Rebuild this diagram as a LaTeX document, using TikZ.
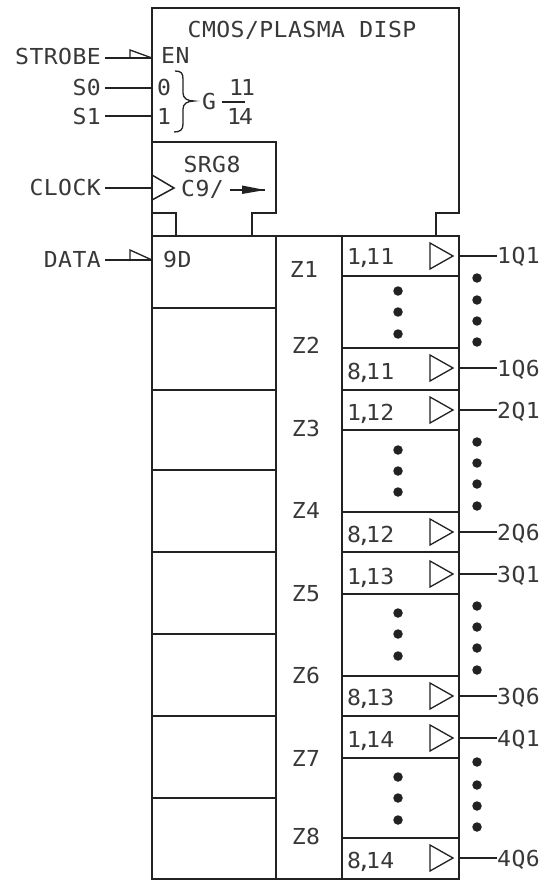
\documentclass[tikz,border=0pt]{standalone}
\usepackage{fontspec}
\newfontfamily\cadfont[FakeStretch=1.05,LetterSpace=2]{DejaVu Sans Mono}
\newcommand{\cadcomma}{\kern-4pt,\kern-5pt}
\tikzset{
  wire/.style={line width=1.5pt,draw=ink,line cap=rect},
  thinwire/.style={line width=1.3pt,draw=ink},
  lbl/.style={inner sep=0pt,text height=16pt,text depth=0pt,text=ink!90,font=\cadfont\fontsize{22}{23}\selectfont},
  dotmark/.style={circle,fill=ink,draw=none,minimum size=9.5pt,inner sep=0pt},
}
\definecolor{ink}{HTML}{222222}
\begin{document}
\begin{tikzpicture}[x=1pt,y=-1pt]
\useasboundingbox (0,0) rectangle (545,882);
\fill[white] (0,0) rectangle (545,882);
% common control block
\draw[wire] (436,236) -- (436,213) -- (459,213) -- (459,8) -- (152,8) -- (152,236);
\draw[wire] (152,142) -- (276,142) -- (276,213) -- (252,213) -- (252,236);
\draw[wire] (152,213) -- (176,213) -- (176,236);
% register body
\draw[wire] (152,236) rectangle (459,879);
\draw[wire] (276,236) -- (276,879);
\draw[wire] (342,236) -- (342,879);
\foreach \y in {308,390,470,552,634,716,798} \draw[wire] (152,\y) -- (276,\y);
\foreach \y in {276,348,390,430,512,552,594,676,716,758,838} \draw[wire] (342,\y) -- (459,\y);
% texts in control block
\node[lbl] (title) at (302,30) {CMOS/PLASMA DISP};
\node[lbl,anchor=west] (en) at (161,56) {EN};
\node[lbl,anchor=west] (s0in) at (157,88) {0};
\node[lbl,anchor=west] (s1in) at (157,117) {1};
\node[lbl] (g) at (209,102) {G};
\node[lbl] (n11) at (242,88) {1\kern-2pt 1};
\node[lbl] (n14) at (240,117) {1\kern-2pt 4};
\draw[thinwire] (222,102) -- (245,102);
\draw[thinwire] (175,71) .. controls (181,71) and (183,73) .. (183,79) -- (183,93) .. controls (183,98) and (187,101) .. (194,101) .. controls (187,101) and (183,104) .. (183,109) -- (183,124) .. controls (183,130) and (180,132) .. (174,132);
\node[lbl] (srg) at (212,165) {SRG8};
\node[lbl,anchor=west] (c9) at (181,189) {C9/};
\coordinate (shiftA) at (230,190);
\coordinate (shiftB) at (265,190);
\draw[thinwire] (shiftA) -- (shiftB);
\fill[ink] (242,185.5) -- (shiftB) -- (242,194) -- cycle;
% inputs
\node[lbl,anchor=east] (strobe) at (101,57) {STROBE};
\node[lbl,anchor=east] (s0) at (101,88) {S0};
\node[lbl,anchor=east] (s1) at (101,117) {S1};
\node[lbl,anchor=east] (clock) at (101,188) {CLOCK};
\node[lbl,anchor=east] (data) at (101,260) {DATA};
\coordinate (pstrobe) at (152,58);
\coordinate (ps0) at (152,88);
\coordinate (ps1) at (152,116);
\coordinate (pclock) at (152,188);
\coordinate (pdata) at (152,260);
\draw[thinwire] (105,58) -- (pstrobe);
\draw[thinwire] (105,88) -- (ps0);
\draw[thinwire] (105,116) -- (ps1);
\draw[thinwire] (105,188) -- (pclock);
\draw[thinwire] (105,260) -- (pdata);
\draw[thinwire] (130,58) -- (130,50) -- (pstrobe);
\draw[thinwire] (130,260) -- (130,250) -- (pdata);
\draw[wire] (152,175) -- (174,188) -- (152,200);
\node[lbl,anchor=west] (nined) at (163,260) {9D};
% storage labels
\node[lbl] (z1) at (304,269) {Z1};
\node[lbl] (z2) at (306,345) {Z2};
\node[lbl] (z3) at (306,428) {Z3};
\node[lbl] (z4) at (306,510) {Z4};
\node[lbl] (z5) at (306,593) {Z5};
\node[lbl] (z6) at (306,675) {Z6};
\node[lbl] (z7) at (306,758) {Z7};
\node[lbl] (z8) at (306,836) {Z8};
% outputs
\foreach \y/\ly/\a/\b/\q in {256/257/1/11/1Q1,368/371/8/11/1Q6,410/412/1/12/2Q1,532/534/8/12/2Q6,574/576/1/13/3Q1,696/697/8/13/3Q6,738/739/1/14/4Q1,858/860/8/14/4Q6}{
  \node[lbl,anchor=west] (a\a\b) at (347,\ly) {\a\cadcomma\b};
  \draw[thinwire] (430,{\y-13}) -- (453,\y) -- (430,{\y+13}) -- cycle;
  \node[lbl,anchor=west] (out\a\b) at (497,\y) {\q};
  \coordinate (p\a\b) at (459,\y);
  \draw[thinwire] (p\a\b) -- (out\a\b.west);
}
% dots
\foreach \y in {291,312,334,450,471,492,613,634,656,777,798,820}
  \node[dotmark] at (398,\y) {};
\foreach \y in {278,300,321,342,442,463,484,506,606,627,648,670,762,785,806,827}
  \node[dotmark] at (477,\y) {};
\end{tikzpicture}
\end{document}
